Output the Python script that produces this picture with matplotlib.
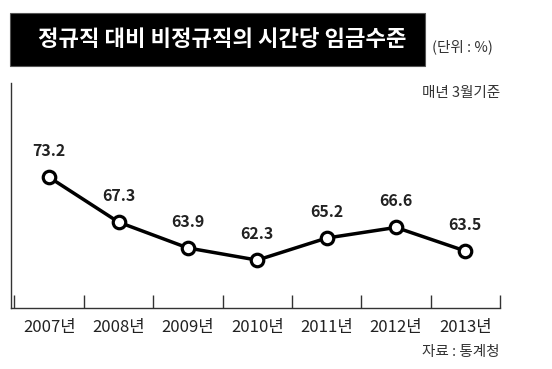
import matplotlib
matplotlib.use("Agg")
import matplotlib.pyplot as plt
from matplotlib.patches import Rectangle

plt.rcParams['font.family'] = ['Noto Sans CJK KR', 'DejaVu Sans']

years = ["2007년", "2008년", "2009년", "2010년", "2011년", "2012년", "2013년"]
values = [73.2, 67.3, 63.9, 62.3, 65.2, 66.6, 63.5]
title = "정규직 대비 비정규직의 시간당 임금수준"
unit = "(단위 : %)"
note = "매년 3월기준"
source = "자료 : 통계청"

W, H = 552, 369
fig = plt.figure(figsize=(W/100, H/100), dpi=100)
ax = fig.add_axes([11/W, 1-308/H, (500-11)/W, (308-83)/H])

x = list(range(len(values)))
ax.plot(x, values, color='black', lw=2.5, marker='o', ms=9, mfc='white',
        mec='black', mew=2.3, zorder=3)
for xi, v in zip(x, values):
    ax.annotate(f"{v:.1f}", (xi, v), xytext=(0, 19), textcoords='offset points',
                ha='center', va='center', fontsize=11.5, fontweight='bold',
                color='#222222')

ax.set_xlim(-0.55, 6.5)
ax.set_ylim(56, 85.6)
ax.spines['top'].set_visible(False)
ax.spines['right'].set_visible(False)
for s in ['left', 'bottom']:
    ax.spines[s].set_linewidth(1.0)
    ax.spines[s].set_color('#333333')
ax.set_yticks([])
ax.set_xticks(x)
ax.set_xticklabels(years, fontsize=12, color='#222222')
ax.tick_params(axis='x', which='major', length=0, pad=8)
ax.set_xticks([i - 0.5 for i in range(len(values) + 1)], minor=True)
ax.tick_params(axis='x', which='minor', direction='in', length=9.5, width=1.0,
               color='#333333')

# title box
fig.patches.append(Rectangle((10/W, 1-66/H), (425-10)/W, (66-13)/H,
                             transform=fig.transFigure, facecolor='black',
                             edgecolor='#555555', lw=0.8))
fig.text(222/W, 1-40/H, title, ha='center', va='center', fontsize=16,
         fontweight='bold', color='white')
fig.text(432/W, 1-47/H, unit, ha='left', va='center', fontsize=10.5, color='#333333')
fig.text(500/W, 1-93/H, note, ha='right', va='center', fontsize=10.5, color='#333333')
fig.text(500/W, 1-352/H, source, ha='right', va='center', fontsize=10.5, color='#333333')

fig.savefig("out.png", dpi=100, facecolor='white')
